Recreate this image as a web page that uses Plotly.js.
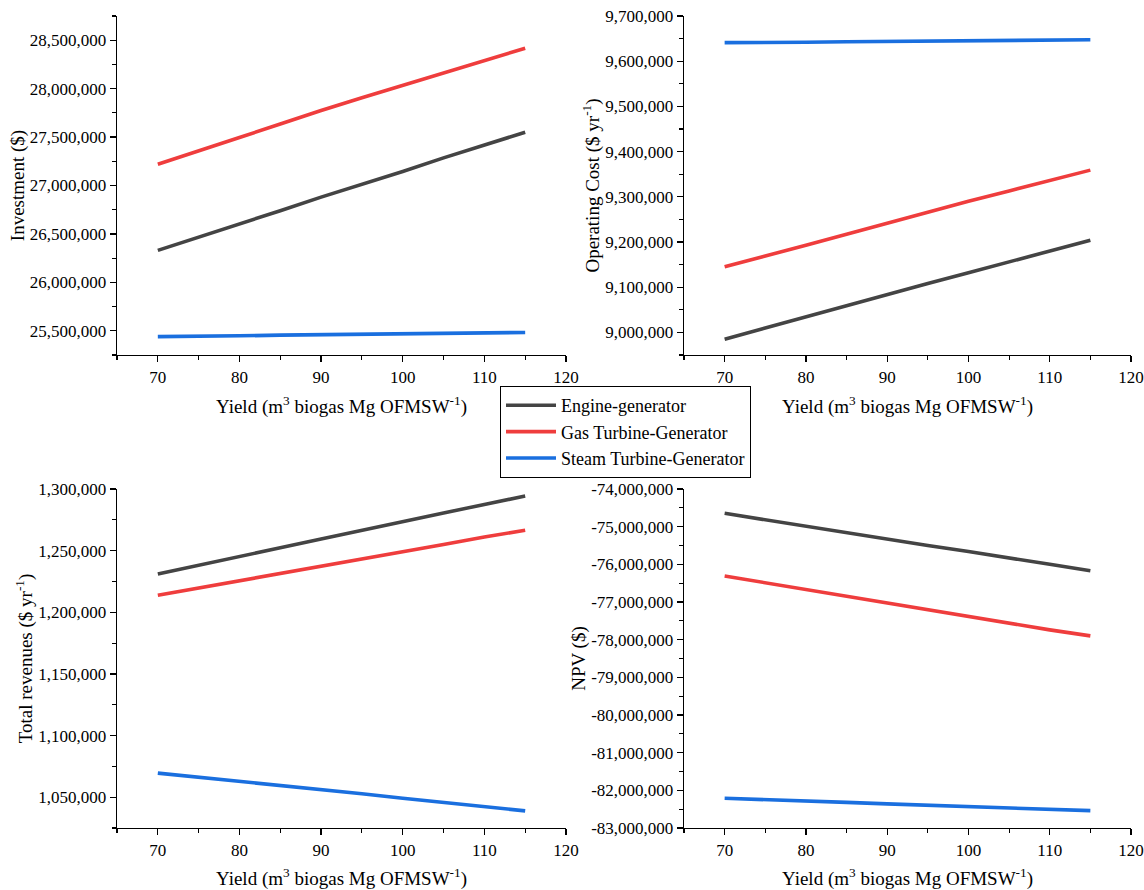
<!DOCTYPE html>
<html>
<head>
<meta charset="utf-8">
<script src="https://cdn.plot.ly/plotly-3.0.1.min.js"></script>
<style>
html,body{margin:0;padding:0;background:#fff;}
#chart{width:1144px;height:890px;}
#chart svg text{font-family:"Liberation Serif" !important;}
</style>
</head>
<body>
<div id="chart"></div>
<script>
// ---- data ----
const seriesNames = ["Engine-generator", "Gas Turbine-Generator", "Steam Turbine-Generator"];
const yieldX = [70, 75, 80, 85, 90, 95, 100, 105, 110, 115];

const investEngine = [26330000, 26465000, 26600000, 26740000, 26880000, 27010000, 27145000, 27285000, 27415000, 27550000];
const investGas    = [27220000, 27355000, 27495000, 27635000, 27775000, 27905000, 28035000, 28160000, 28290000, 28417000];
const investSteam  = [25440000, 25440000, 25448000, 25455000, 25460000, 25467000, 25468000, 25475000, 25477000, 25483000];

const opEngine = [8985000, 9010000, 9034000, 9058000, 9083000, 9108000, 9132000, 9156000, 9180000, 9204000];
const opGas    = [9145000, 9168000, 9193000, 9217000, 9242000, 9266000, 9290000, 9313000, 9336000, 9359000];
const opSteam  = [9641000, 9641000, 9642000, 9643000, 9644000, 9645000, 9645500, 9646500, 9647000, 9647500];

const revEngine = [1231100, 1238000, 1245200, 1252300, 1259500, 1266300, 1273300, 1280500, 1287500, 1294300];
const revGas    = [1213800, 1219600, 1225600, 1231500, 1237400, 1243200, 1249200, 1255000, 1261000, 1266600];
const revSteam  = [1069500, 1066300, 1062700, 1059300, 1056100, 1052800, 1049100, 1045600, 1042200, 1038900];

const npvEngine = [-74646000, -74820000, -74990000, -75160000, -75330000, -75500000, -75660000, -75840000, -76000000, -76170000];
const npvGas    = [-76310000, -76490000, -76680000, -76860000, -77040000, -77220000, -77390000, -77560000, -77740000, -77900000];
const npvSteam  = [-82210000, -82240000, -82280000, -82320000, -82360000, -82400000, -82430000, -82470000, -82510000, -82540000];

const xTickVals = [70, 80, 90, 100, 110, 120];
const npvTickVals = [-74000000, -75000000, -76000000, -77000000, -78000000, -79000000, -80000000, -81000000, -82000000, -83000000];
const npvTickText = npvTickVals.map(v => (v < 0 ? "-" : "") + Math.abs(v).toLocaleString("en-US"));

// ---- styling ----
const colors = ["#444444", "#ef3d3d", "#1a6fdf"];
const FONT = "Liberation Serif";
const LW = 3.6;
const TICKSIZE = 17, TITLESIZE = 19;

function trace(y, i, ax, show) {
  return {
    x: yieldX, y: y, type: "scatter", mode: "lines",
    name: seriesNames[i], legendgroup: seriesNames[i], showlegend: show,
    line: {color: colors[i], width: LW},
    xaxis: "x" + (ax === 1 ? "" : ax), yaxis: "y" + (ax === 1 ? "" : ax),
    hoverinfo: "x+y"
  };
}

const data = [
  trace(investEngine, 0, 1, true), trace(investGas, 1, 1, true), trace(investSteam, 2, 1, true),
  trace(opEngine, 0, 2, false), trace(opGas, 1, 2, false), trace(opSteam, 2, 2, false),
  trace(revEngine, 0, 3, false), trace(revGas, 1, 3, false), trace(revSteam, 2, 3, false),
  trace(npvEngine, 0, 4, false), trace(npvGas, 1, 4, false), trace(npvSteam, 2, 4, false)
];

const W = 1144, H = 890;
const xdL = [117 / W, 566 / W], xdR = [684 / W, 1131 / W];
const ydT = [1 - 355 / H, 1 - 16 / H], ydB = [1 - 828 / H, 1 - 489 / H];

const yieldTitle = "Yield (m<sup>3</sup> biogas Mg OFMSW<sup>-1</sup>)";

function xAxis(domain, anchor) {
  return {
    domain: domain, anchor: anchor, range: [65, 120], tickvals: xTickVals,
    showline: true, linecolor: "#000", linewidth: 1.3, mirror: false,
    ticks: "outside", ticklen: 6, tickwidth: 1.3, tickcolor: "#000",
    minor: {ticks: "outside", ticklen: 3.5, tickwidth: 1.1, tickcolor: "#000", dtick: 5, tick0: 65, showgrid: false},
    showgrid: false, zeroline: false, automargin: false,
    tickfont: {family: FONT, size: TICKSIZE, color: "#000"},
    title: {text: yieldTitle, font: {family: FONT, size: TITLESIZE, color: "#000"}, standoff: 14}
  };
}
function yAxis(domain, anchor, range, dtick, title, standoff) {
  return {
    domain: domain, anchor: anchor, range: range, dtick: dtick, tickformat: ",d",
    showline: true, linecolor: "#000", linewidth: 1.3,
    ticks: "outside", ticklen: 6, tickwidth: 1.3, tickcolor: "#000",
    minor: {ticks: "outside", ticklen: 3.5, tickwidth: 1.1, tickcolor: "#000", dtick: dtick / 2, showgrid: false},
    showgrid: false, zeroline: false, automargin: false,
    tickfont: {family: FONT, size: TICKSIZE, color: "#000"},
    title: {text: title, font: {family: FONT, size: TITLESIZE, color: "#000"}, standoff: standoff}
  };
}

const yNpv = yAxis(ydB, "x4", [-83000000, -74000000], 1000000, "NPV ($)", 0);
yNpv.tickvals = npvTickVals; yNpv.ticktext = npvTickText; delete yNpv.dtick; yNpv.tickmode = "array";
yNpv.minor = {ticks: "outside", ticklen: 3.5, tickwidth: 1.1, tickcolor: "#000", dtick: 500000, tick0: -83000000, showgrid: false};

const layout = {
  width: W, height: H,
  margin: {l: 0, r: 0, t: 0, b: 0},
  paper_bgcolor: "#fff", plot_bgcolor: "#fff",
  font: {family: FONT, color: "#000", size: TICKSIZE},
  showlegend: true,
  legend: {
    x: 500 / W, y: 1 - 386 / H, xanchor: "left", yanchor: "top",
    bgcolor: "#fff", bordercolor: "#000", borderwidth: 1,
    font: {family: FONT, size: 18, color: "#000"},
    tracegroupgap: 0, itemwidth: 50
  },
  xaxis: xAxis(xdL, "y"),
  yaxis: yAxis(ydT, "x", [25250000, 28750000], 500000, "Investment ($)", 0),
  xaxis2: xAxis(xdR, "y2"),
  yaxis2: yAxis(ydT, "x2", [8950000, 9700000], 100000, "Operating Cost ($ yr<sup>-1</sup>)", 0),
  xaxis3: xAxis(xdL, "y3"),
  yaxis3: yAxis(ydB, "x3", [1025000, 1300000], 50000, "Total revenues ($ yr<sup>-1</sup>)", 0),
  xaxis4: xAxis(xdR, "y4"),
  yaxis4: yNpv
};

function draw() {
  Plotly.newPlot("chart", data, layout, {displayModeBar: false, staticPlot: true});
}
if (document.fonts && document.fonts.load) {
  document.fonts.load('17px "Liberation Serif"').then(draw, draw);
} else {
  draw();
}
</script>
</body>
</html>
